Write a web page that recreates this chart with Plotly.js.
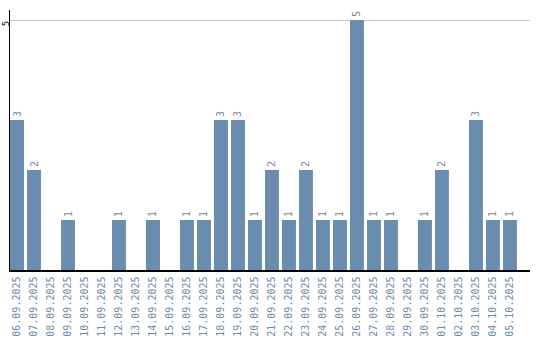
<!DOCTYPE html>
<html><head><meta charset="utf-8">
<script src="https://cdn.plot.ly/plotly-3.0.1.min.js"></script>
<style>html,body{margin:0;padding:0;background:#fff}</style>
</head><body>
<div id="chart" style="width:540px;height:340px"></div>
<script>
const dates = ["06.09.2025","07.09.2025","08.09.2025","09.09.2025","10.09.2025","11.09.2025","12.09.2025","13.09.2025","14.09.2025","15.09.2025","16.09.2025","17.09.2025","18.09.2025","19.09.2025","20.09.2025","21.09.2025","22.09.2025","23.09.2025","24.09.2025","25.09.2025","26.09.2025","27.09.2025","28.09.2025","29.09.2025","30.09.2025","01.10.2025","02.10.2025","03.10.2025","04.10.2025","05.10.2025"];
const counts = [3,2,0,1,0,0,1,0,1,0,1,1,3,3,1,2,1,2,1,1,5,1,1,0,1,2,0,3,1,1];
const labels = counts.map(v => v > 0 ? String(v) : "");

Plotly.newPlot("chart", [{
  type: "bar",
  x: dates,
  y: counts,
  text: labels,
  textposition: "outside",
  textangle: -90,
  cliponaxis: false,
  textfont: {family: "DejaVu Sans Mono", size: 10, color: "#7a8a9a"},
  marker: {color: "#6a8caf"},
  hoverinfo: "none"
}], {
  width: 540, height: 340,
  margin: {l: 10, r: 10, t: 10, b: 70, pad: 0},
  paper_bgcolor: "#fff", plot_bgcolor: "#fff",
  bargap: 0.18,
  showlegend: false,
  xaxis: {
    type: "category",
    range: [-0.412, 30.18],
    showline: true, linecolor: "#000", linewidth: 1.5,
    showgrid: false, ticks: "",
    tickangle: -90,
    tickfont: {family: "DejaVu Sans Mono", size: 10, color: "#6a8caf"},
    ticklabelstandoff: 1
  },
  yaxis: {
    range: [0, 5.2],
    tickvals: [5], ticktext: ["5"],
    showline: true, linecolor: "#000", linewidth: 1.5,
    showgrid: true, gridcolor: "#c8c8c8", gridwidth: 1,
    zeroline: false, ticks: "",
    tickangle: -90,
    ticklabelstandoff: -4,
    ticklabelshift: 5,
    tickfont: {family: "DejaVu Sans Mono", size: 9, color: "#000"}
  }
}, {staticPlot: true});
</script>
</body></html>
